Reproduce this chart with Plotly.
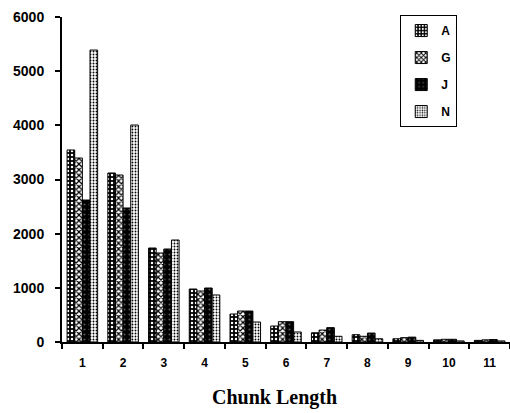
import plotly.graph_objects as go

categories = ["1", "2", "3", "4", "5", "6", "7", "8", "9", "10", "11"]
series_names = ["A", "G", "J", "N"]
A = [3545, 3120, 1735, 978, 517, 295, 170, 135, 60, 40, 30]
G = [3397, 3083, 1643, 941, 572, 375, 220, 105, 80, 50, 40]
J = [2621, 2474, 1717, 997, 572, 375, 265, 165, 90, 50, 45]
N = [5390, 4006, 1883, 868, 369, 185, 105, 60, 30, 20, 20]
y_ticks = [0, 1000, 2000, 3000, 4000, 5000, 6000]

values = [A, G, J, N]
patterns = [
    dict(shape=".", bgcolor="black", fgcolor="white", size=4, solidity=0.3, fillmode="replace"),
    dict(shape="x", bgcolor="white", fgcolor="black", size=4, solidity=0.5, fillmode="replace"),
    dict(shape=".", bgcolor="black", fgcolor="#555555", size=5, solidity=0.15, fillmode="replace"),
    dict(shape=".", bgcolor="white", fgcolor="black", size=3, solidity=0.3, fillmode="replace"),
]

fig = go.Figure()
for i, (name, vals) in enumerate(zip(series_names, values)):
    fig.add_trace(go.Bar(
        x=categories, y=vals, name=name, legendgroup=name,
        marker=dict(color=patterns[i]["bgcolor"], pattern=patterns[i],
                    line=dict(color="black", width=1)),
    ))

fig.update_layout(
    width=510, height=413,
    margin=dict(l=62, r=0, t=17, b=71),
    paper_bgcolor="white", plot_bgcolor="white",
    barmode="group", bargap=0.25, bargroupgap=0,
    font=dict(family="Liberation Sans", color="black"),
    showlegend=True,
    legend=dict(x=0.755, y=1.006, xanchor="left", yanchor="top",
                bordercolor="black", borderwidth=1, bgcolor="white",
                font=dict(size=12, family="Liberation Sans", weight="bold"),
                tracegroupgap=8, itemwidth=30),
    xaxis=dict(type="category", range=[-0.5, 10.5], showline=True, linecolor="black",
               linewidth=2, ticks="outside", tickson="boundaries", ticklen=5,
               tickwidth=2, tickcolor="black", ticklabelstandoff=9,
               tickfont=dict(size=12, weight="bold"), showgrid=False, zeroline=False),
    yaxis=dict(range=[0, 6000], tickvals=y_ticks, showline=True, linecolor="black",
               linewidth=2, ticks="outside", ticklen=5, tickwidth=2, tickcolor="black",
               ticklabelstandoff=8,
               tickfont=dict(size=14, weight="bold"), showgrid=False, zeroline=False),
    annotations=[dict(text="Chunk Length", xref="paper", yref="paper", x=0.475, y=-0.17,
                      xanchor="center", yanchor="middle", showarrow=False,
                      font=dict(family="Liberation Serif", size=20, weight="bold"))],
)

fig.write_html("out.html")
